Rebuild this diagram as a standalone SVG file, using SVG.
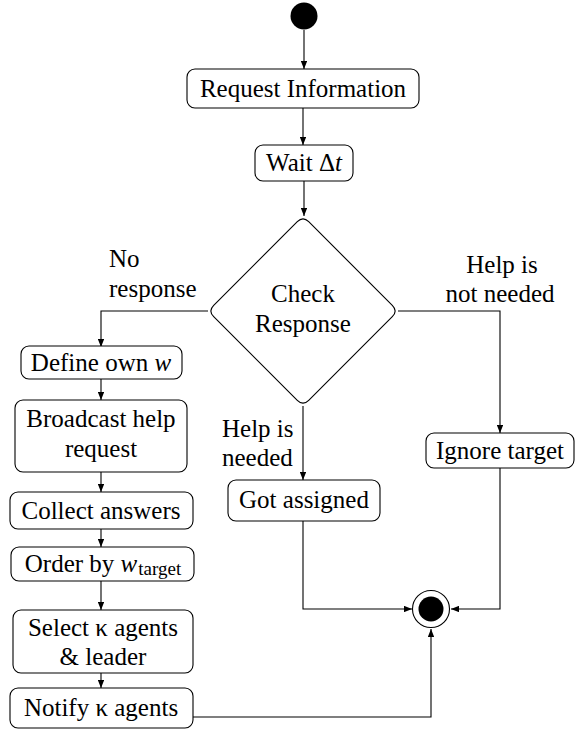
<svg xmlns="http://www.w3.org/2000/svg" width="584" height="738" viewBox="0 0 584 738">
<defs>
<marker id="ah" viewBox="0 0 10 8" refX="10" refY="4" markerWidth="8" markerHeight="6.4" markerUnits="userSpaceOnUse" orient="auto">
<path d="M0,0 L10,4 L0,8 z" fill="#000"/>
</marker>
<style>
.box{fill:#fff;stroke:#000;stroke-width:1.1}
.t{font-family:"Liberation Serif","Times New Roman",serif;font-size:25px;fill:#000}
.c{text-anchor:middle}
.e{stroke:#000;stroke-width:1.1;fill:none;marker-end:url(#ah)}
</style>
</defs>
<rect width="584" height="738" fill="#fff"/>
<g id="connectors">
<path class="e" d="M304,30 L304,69"/>
<path class="e" d="M303,108 L303,145"/>
<path class="e" d="M304,181 L304,216"/>
<path class="e" d="M208,311 L101,311 L101,347"/>
<path class="e" d="M398,311 L500,311 L500,433"/>
<path class="e" d="M303,406 L303,480"/>
<path class="e" d="M101,379 L101,400"/>
<path class="e" d="M101,472 L101,492"/>
<path class="e" d="M101,529 L101,547"/>
<path class="e" d="M101,581 L101,610"/>
<path class="e" d="M101,673 L101,688"/>
<path class="e" d="M303,521 L303,609 L412,609"/>
<path class="e" d="M500,468 L500,609 L451,609"/>
<path class="e" d="M193,717 L431,717 L431,629"/>
</g>
<g id="labels">
<text class="t" x="109" y="267">No</text>
<text class="t" x="109" y="297">response</text>
<text class="t c" x="502" y="273">Help is</text>
<text class="t c" x="500" y="302">not needed</text>
<text class="t" x="222" y="437">Help is</text>
<text class="t" x="222" y="466">needed</text>
</g>
<g id="start"><circle cx="304" cy="16" r="13.5" fill="#000"/></g>
<g id="request"><rect class="box" x="187" y="69" width="232" height="39" rx="8"/><text class="t c" x="303" y="97">Request Information</text></g>
<g id="wait"><rect class="box" x="255" y="145" width="98" height="36" rx="8"/><text class="t c" x="304" y="171">Wait Δ<tspan font-style="italic">t</tspan></text></g>
<g id="check"><path class="box" d="M308.7,221.7 L392.3,305.3 Q398,311 392.3,316.7 L308.7,400.3 Q303,406 297.3,400.3 L213.7,316.7 Q208,311 213.7,305.3 L297.3,221.7 Q303,216 308.7,221.7 Z"/><text class="t c" x="303" y="302">Check</text><text class="t c" x="303" y="332">Response</text></g>
<g id="define"><rect class="box" x="21" y="346" width="161" height="33" rx="8"/><text class="t c" x="101" y="371">Define own <tspan font-style="italic">w</tspan></text></g>
<g id="broadcast"><rect class="box" x="15" y="400" width="172" height="72" rx="8"/><text class="t c" x="101" y="427">Broadcast help</text><text class="t c" x="101" y="457">request</text></g>
<g id="collect"><rect class="box" x="10" y="492" width="183" height="37" rx="8"/><text class="t c" x="101" y="519">Collect answers</text></g>
<g id="order"><rect class="box" x="11" y="547" width="183" height="34" rx="8"/><text class="t c" x="103" y="572">Order by <tspan font-style="italic">w</tspan><tspan font-size="19" dx="1" dy="3">target</tspan></text></g>
<g id="select"><rect class="box" x="13" y="610" width="180" height="63" rx="8"/><text class="t c" x="103" y="636">Select κ agents</text><text class="t c" x="103" y="665">&amp; leader</text></g>
<g id="notify"><rect class="box" x="10" y="688" width="183" height="40" rx="8"/><text class="t c" x="101" y="716">Notify κ agents</text></g>
<g id="ignore"><rect class="box" x="426" y="433" width="148" height="35" rx="8"/><text class="t c" x="500" y="459">Ignore target</text></g>
<g id="assigned"><rect class="box" x="228" y="480" width="152" height="41" rx="8"/><text class="t c" x="304" y="508">Got assigned</text></g>
<g id="end"><circle cx="431" cy="609" r="18.5" fill="#fff" stroke="#000" stroke-width="1.1"/><circle cx="431" cy="609" r="12.5" fill="#000"/></g>
</svg>
